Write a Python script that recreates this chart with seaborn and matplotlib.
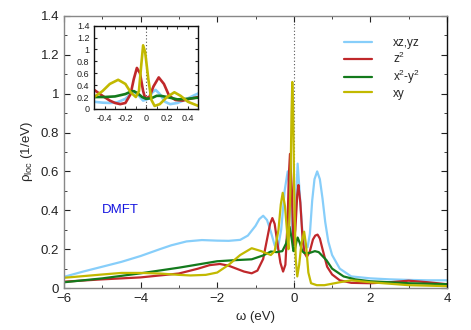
import numpy as np
import pandas as pd
import matplotlib
matplotlib.use("Agg")
import matplotlib.pyplot as plt
import seaborn as sns
from matplotlib.ticker import MultipleLocator

# orbital names and colours
orbitals=["xz,yz","z$^2$","x$^2$-y$^2$","xy"]
colors=["#87cefa","#c0282b","#137a1c","#c2b900"]

# main panel, omega (eV) and rho_loc (1/eV)
w_xz=[-6,-5.5,-5,-4.5,-4,-3.5,-3.2,-2.8,-2.4,-2.0,-1.7,-1.4,-1.2,-1.0,-0.9,-0.8,-0.7,-0.6,-0.5,-0.42,-0.33,-0.24,-0.16,-0.1,-0.04,0.0,0.05,0.1,0.15,0.22,0.3,0.36,0.42,0.48,0.54,0.61,0.68,0.75,0.82,0.9,1.0,1.2,1.5,2,2.5,3,3.5,4]
r_xz=[0.058,0.085,0.11,0.135,0.165,0.2,0.22,0.24,0.247,0.244,0.243,0.248,0.27,0.32,0.355,0.372,0.35,0.29,0.22,0.2,0.3,0.5,0.6,0.5,0.3,0.22,0.42,0.64,0.5,0.3,0.21,0.21,0.28,0.45,0.56,0.6,0.56,0.46,0.34,0.24,0.17,0.1,0.06,0.05,0.045,0.042,0.04,0.04]
w_z2=[-6,-5,-4,-3,-2.5,-2.2,-1.93,-1.7,-1.5,-1.3,-1.1,-0.95,-0.8,-0.7,-0.62,-0.56,-0.5,-0.42,-0.35,-0.28,-0.22,-0.16,-0.13,-0.1,-0.05,-0.01,0.04,0.09,0.12,0.17,0.23,0.28,0.34,0.42,0.5,0.56,0.62,0.68,0.75,0.87,1.0,1.2,1.5,2,2.5,3,3.5,4]
r_z2=[0.033,0.045,0.055,0.075,0.1,0.118,0.124,0.115,0.1,0.085,0.076,0.09,0.15,0.25,0.33,0.36,0.33,0.22,0.13,0.085,0.12,0.35,0.58,0.69,0.5,0.22,0.3,0.48,0.53,0.44,0.25,0.18,0.16,0.19,0.25,0.27,0.275,0.255,0.2,0.11,0.07,0.04,0.027,0.025,0.03,0.038,0.03,0.02]
w_x2y2=[-6,-5,-4,-3,-2,-1.5,-1.1,-0.8,-0.6,-0.45,-0.3,-0.2,-0.15,-0.11,-0.06,-0.01,0.03,0.07,0.1,0.16,0.22,0.28,0.4,0.55,0.65,0.85,1.0,1.3,1.6,2,3,4]
r_x2y2=[0.03,0.05,0.076,0.105,0.138,0.144,0.148,0.168,0.188,0.185,0.19,0.23,0.28,0.315,0.26,0.19,0.2,0.24,0.26,0.23,0.19,0.18,0.18,0.19,0.185,0.144,0.1,0.06,0.045,0.035,0.025,0.02]
w_xy=[-6,-5,-4.5,-4,-3.5,-3,-2.7,-2.3,-2.0,-1.7,-1.4,-1.1,-0.85,-0.6,-0.5,-0.4,-0.34,-0.29,-0.23,-0.18,-0.14,-0.09,-0.06,-0.04,-0.02,0.01,0.05,0.09,0.14,0.2,0.27,0.32,0.38,0.45,0.6,0.8,1.2,1.5,2,3,4]
r_xy=[0.053,0.07,0.078,0.078,0.075,0.068,0.065,0.068,0.08,0.12,0.17,0.205,0.19,0.17,0.19,0.3,0.43,0.49,0.42,0.3,0.2,0.5,0.9,1.06,0.95,0.5,0.15,0.06,0.12,0.23,0.29,0.22,0.08,0.025,0.015,0.015,0.03,0.04,0.03,0.015,0.01]

# inset, low energy window
iw_xz=[-0.5,-0.42,-0.35,-0.28,-0.2,-0.15,-0.12,-0.08,-0.03,0.02,0.06,0.09,0.13,0.18,0.23,0.3,0.38,0.45,0.5]
ir_xz=[0.12,0.105,0.1,0.11,0.17,0.25,0.29,0.24,0.14,0.17,0.28,0.32,0.25,0.12,0.08,0.1,0.16,0.22,0.26]
iw_z2=[-0.5,-0.42,-0.35,-0.3,-0.25,-0.2,-0.15,-0.12,-0.09,-0.06,-0.03,-0.01,0.03,0.07,0.12,0.17,0.22,0.28,0.35,0.42,0.5]
ir_z2=[0.32,0.22,0.14,0.1,0.08,0.1,0.25,0.5,0.69,0.6,0.3,0.18,0.2,0.38,0.53,0.42,0.22,0.15,0.14,0.17,0.2]
iw_x2y2=[-0.5,-0.4,-0.3,-0.2,-0.15,-0.12,-0.08,-0.04,0.0,0.05,0.1,0.14,0.2,0.3,0.4,0.5]
ir_x2y2=[0.2,0.2,0.21,0.25,0.29,0.3,0.26,0.2,0.17,0.18,0.22,0.22,0.2,0.16,0.17,0.19]
iw_xy=[-0.5,-0.42,-0.35,-0.27,-0.2,-0.15,-0.1,-0.07,-0.05,-0.03,-0.01,0.02,0.05,0.08,0.13,0.2,0.27,0.33,0.4,0.5]
ir_xy=[0.2,0.3,0.42,0.49,0.42,0.28,0.2,0.3,0.7,1.07,0.95,0.5,0.15,0.05,0.08,0.2,0.28,0.22,0.12,0.05]

def long_table(ws,rs):
    frames=[pd.DataFrame({"w":w,"rho":r,"orb":o}) for w,r,o in zip(ws,rs,orbitals)]
    return pd.concat(frames,ignore_index=True)

main_df=long_table([w_xz,w_z2,w_x2y2,w_xy],[r_xz,r_z2,r_x2y2,r_xy])
inset_df=long_table([iw_xz,iw_z2,iw_x2y2,iw_xy],[ir_xz,ir_z2,ir_x2y2,ir_xy])
pal=dict(zip(orbitals,colors))

sns.set_style("ticks")
plt.rcParams["font.family"]=["Liberation Sans","DejaVu Sans"]
plt.rcParams["mathtext.fontset"]="custom"
plt.rcParams["mathtext.rm"]="Liberation Sans"
plt.rcParams["mathtext.it"]="Liberation Sans:italic"

fig=plt.figure(figsize=(4.71,3.30),dpi=100)
ax=fig.add_axes([0.136,0.127,0.813,0.825])
sns.lineplot(data=main_df,x="w",y="rho",hue="orb",palette=pal,estimator=None,sort=False,linewidth=1.6,ax=ax,legend=False)
ax.axvline(0,color="#555555",linestyle=(0,(1,2)),linewidth=0.8,zorder=0)
ax.set_xlim(-6,4)
ax.set_ylim(0,1.4)
ax.xaxis.set_major_locator(MultipleLocator(2))
ax.xaxis.set_minor_locator(MultipleLocator(1))
ax.yaxis.set_major_locator(MultipleLocator(0.2))
ax.yaxis.set_minor_locator(MultipleLocator(0.1))
ax.set_yticklabels([f"{v:g}" for v in ax.get_yticks()])
ax.tick_params(which="both",direction="in",top=True,right=True,labelsize=9.5,colors="#222222")
ax.tick_params(which="major",length=4)
ax.tick_params(which="minor",length=2.5)
for s in ["left","bottom","top"]:
    ax.spines[s].set_color("#888888")
ax.spines["right"].set_color("#111111")
for s in ax.spines.values():
    s.set_linewidth(1.0)
ax.set_xlabel("ω (eV)",fontsize=9.5)
ax.set_ylabel("ρ$_{\\rm loc}$ (1/eV)",fontsize=9.5)
ax.text(-5,0.4,"DMFT",color="#1515e0",fontsize=9.5,va="center")

# legend drawn as proxy lines
handles=[plt.Line2D([],[],color=c,linewidth=1.6) for c in colors]
ax.legend(handles,orbitals,loc="upper left",bbox_to_anchor=(0.718,0.94),frameon=False,fontsize=8.5,handlelength=2.4,handletextpad=1.8,labelspacing=0.15,borderaxespad=0)

ins=fig.add_axes([0.200,0.670,0.221,0.252])
sns.lineplot(data=inset_df,x="w",y="rho",hue="orb",palette=pal,estimator=None,sort=False,linewidth=1.9,ax=ins,legend=False)
ins.axvline(0,color="#555555",linestyle=(0,(1,2)),linewidth=0.8,zorder=0)
ins.set_xlim(-0.5,0.5)
ins.set_ylim(0,1.4)
ins.xaxis.set_major_locator(MultipleLocator(0.2))
ins.xaxis.set_minor_locator(MultipleLocator(0.1))
ins.yaxis.set_major_locator(MultipleLocator(0.2))
ins.set_xticklabels([f"{v:g}" for v in ins.get_xticks()])
ins.set_yticklabels([f"{v:g}" for v in ins.get_yticks()])
ins.tick_params(which="both",direction="in",top=True,right=True,labelsize=6.5,colors="#222222",length=2.5)
ins.set_xlabel("")
ins.set_ylabel("")
for s in ins.spines.values():
    s.set_color("#111111")
    s.set_linewidth(1.0)

fig.savefig("out.png",dpi=100)
